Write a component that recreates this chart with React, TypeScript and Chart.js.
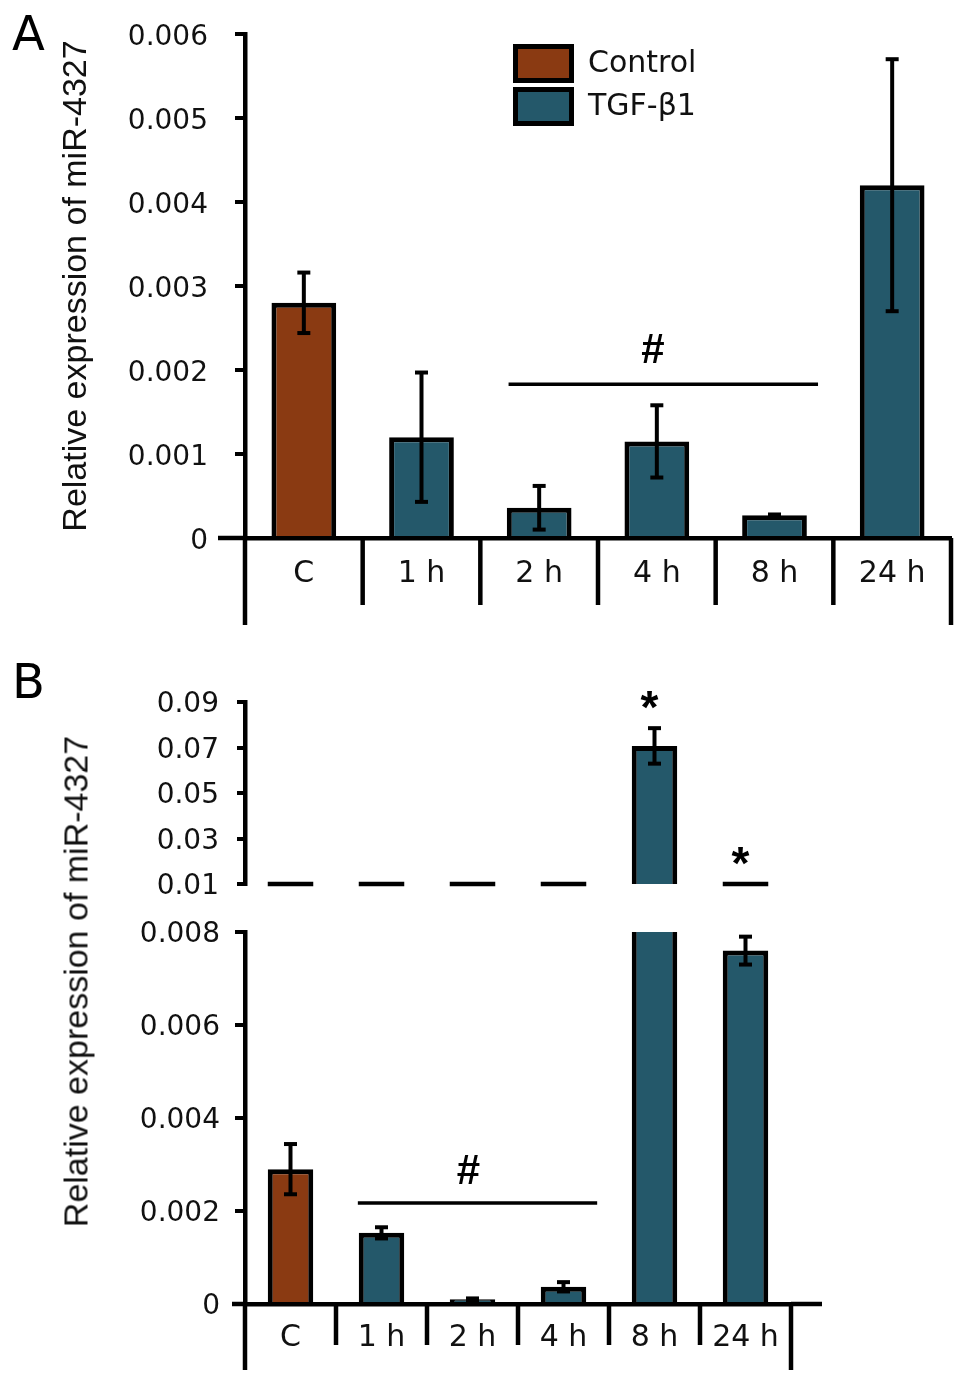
import React, { useRef, useEffect } from "react";
import { Chart, registerables } from "chart.js";

Chart.register(...registerables);

const categories = ["C", "1 h", "2 h", "4 h", "8 h", "24 h"];
const groups = ["Control", "TGF-β1", "TGF-β1", "TGF-β1", "TGF-β1", "TGF-β1"];
const groupColors: Record<string, string> = { Control: "#8a3a12", "TGF-β1": "#24586a" };

// panel A
const aValues = [0.0028, 0.0012, 0.00036, 0.00115, 0.00027, 0.0042];
const aErrors = [0.00036, 0.00077, 0.00026, 0.00043, 0.00001, 0.0015];
const aTicks = [0, 0.001, 0.002, 0.003, 0.004, 0.005, 0.006];
const aHash = { from: 2, to: 4, at: 3, y: 0.00183 };

// panel B (broken axis)
const bValues = [0.0029, 0.00153, 0.0001, 0.00037, 0.0707, 0.0076];
const bErrors = [0.00054, 0.00012, 0.00002, 0.0001, 0.0078, 0.0003];
const bLowTicks = [0, 0.002, 0.004, 0.006, 0.008];
const bHighTicks = [0.01, 0.03, 0.05, 0.07, 0.09];
const bHash = { from: 1, to: 3, at: 2, y: 0.00217 };
const bStars = ["", "", "", "", "*", "*"];

const yTitle = "Relative expression of miR-4327";
const TICK_FONT = "DejaVu Sans";
const TITLE_FONT = "Liberation Sans";
const INK = "#111";

const line = (ctx: CanvasRenderingContext2D, x1: number, y1: number, x2: number, y2: number) => {
  ctx.beginPath();
  ctx.moveTo(x1, y1);
  ctx.lineTo(x2, y2);
  ctx.stroke();
};

function drawErrorBars(chart: any, values: number[], errors: number[]) {
  const { ctx } = chart;
  const x = chart.scales.x;
  const y = chart.scales.y;
  ctx.save();
  ctx.strokeStyle = "#000";
  ctx.lineWidth = 4;
  values.forEach((v, i) => {
    if (v < y.min || v > y.max) return;
    const cx = x.getPixelForValue(i);
    const hi = y.getPixelForValue(Math.min(v + errors[i], y.max));
    const lo = y.getPixelForValue(Math.max(v - errors[i], y.min));
    line(ctx, cx, hi, cx, lo);
    line(ctx, cx - 6.5, hi, cx + 6.5, hi);
    line(ctx, cx - 6.5, lo, cx + 6.5, lo);
  });
  ctx.restore();
}

// category separators under the x axis, plus axis line extensions
function drawDividers(chart: any, outer: number, inner: number, extLeft: number, extRight: number) {
  const { ctx, chartArea } = chart;
  const x = chart.scales.x;
  const n = categories.length;
  const w = (x.right - x.left) / n;
  const base = chartArea.bottom;
  ctx.save();
  ctx.strokeStyle = "#000";
  ctx.lineWidth = 4.5;
  for (let k = 0; k <= n; k++) {
    const px = x.left + k * w;
    line(ctx, px, base, px, base + (k === 0 || k === n ? outer : inner));
  }
  line(ctx, extLeft, base, x.left, base);
  if (extRight > x.right) line(ctx, x.right, base, extRight, base);
  ctx.restore();
}

function drawHash(chart: any, sig: { from: number; to: number; at: number; y: number }, gap: number) {
  const { ctx } = chart;
  const x = chart.scales.x;
  const y = chart.scales.y;
  const w = (x.right - x.left) / categories.length;
  const py = y.getPixelForValue(sig.y);
  ctx.save();
  ctx.strokeStyle = "#000";
  ctx.lineWidth = 3.5;
  line(ctx, x.getPixelForValue(sig.from) - 0.26 * w, py, x.getPixelForValue(sig.to) + 0.37 * w, py);
  ctx.fillStyle = "#000";
  ctx.font = `bold 42px ${TITLE_FONT}`;
  ctx.textAlign = "center";
  ctx.textBaseline = "middle";
  ctx.fillText("#", x.getPixelForValue(sig.at) - 4, py - gap);
  ctx.restore();
}

function drawLetter(chart: any, letter: string, baseline: number) {
  const { ctx } = chart;
  ctx.save();
  ctx.fillStyle = "#000";
  ctx.font = `48px ${TICK_FONT}`;
  ctx.textAlign = "left";
  ctx.textBaseline = "alphabetic";
  ctx.fillText(letter, 12, baseline);
  ctx.restore();
}

function makeBarChart(canvas: HTMLCanvasElement, cfg: any) {
  return new Chart(canvas, {
    type: "bar",
    data: {
      labels: categories,
      datasets: [
        {
          data: cfg.data,
          backgroundColor: groups.map((g) => groupColors[g]),
          borderColor: "#000",
          borderWidth: 5,
          borderSkipped: cfg.borderSkipped,
          barPercentage: cfg.barPercentage,
          categoryPercentage: 1,
          clip: cfg.clip,
        },
      ],
    },
    options: {
      responsive: false,
      animation: false,
      devicePixelRatio: 1,
      events: [],
      layout: { padding: cfg.padding },
      plugins: { legend: { display: false }, tooltip: { enabled: false } },
      scales: {
        x: {
          display: cfg.xHeight > 0,
          afterFit: (s: any) => {
            s.height = cfg.xHeight;
          },
          border: { display: true, color: "#000", width: 4.5 },
          grid: { display: false },
          ticks: {
            color: INK,
            font: { family: TICK_FONT, size: 30 },
            padding: cfg.xPad,
            autoSkip: false,
            maxRotation: 0,
          },
        },
        y: {
          min: cfg.min,
          max: cfg.max,
          afterFit: (s: any) => {
            s.width = cfg.yWidth;
            s.paddingTop = 0;
            s.paddingBottom = 0;
          },
          afterBuildTicks: (s: any) => {
            s.ticks = cfg.ticks.map((value: number) => ({ value }));
          },
          border: { display: true, color: "#000", width: 4.5 },
          grid: {
            drawOnChartArea: false,
            drawTicks: true,
            tickLength: cfg.tickLength,
            color: "#000",
            lineWidth: 4,
          },
          ticks: {
            color: INK,
            font: { family: TICK_FONT, size: 28 },
            padding: cfg.tickPadding,
            labelOffset: cfg.labelOffset,
            callback: (v: any) => String(v),
          },
          title: cfg.title
            ? {
                display: true,
                text: yTitle,
                color: INK,
                font: { family: TITLE_FONT, size: 34 },
                padding: { top: 56, bottom: 0 },
              }
            : { display: false },
        },
      },
    },
    plugins: [cfg.plugin],
  } as any);
}

const ChartCanvas: React.FC<{ top: number; height: number; make: (c: HTMLCanvasElement) => Chart }> = ({
  top,
  height,
  make,
}) => {
  const ref = useRef<HTMLCanvasElement | null>(null);

  useEffect(() => {
    if (!ref.current) return;
    const chart = make(ref.current);
    return () => {
      chart.destroy();
    };
  }, []);

  return (
    <canvas
      ref={ref}
      width={969}
      height={height}
      style={{ position: "absolute", left: 0, top, width: 969, height }}
    />
  );
};

const App: React.FC = () => {
  const legendItems = Array.from(new Set(groups));

  const panelA = (canvas: HTMLCanvasElement) =>
    makeBarChart(canvas, {
      data: aValues,
      min: 0,
      max: 0.006,
      ticks: aTicks,
      padding: { top: 34, right: 18, bottom: 0, left: 0 },
      yWidth: 245,
      xHeight: 102,
      xPad: 10,
      tickLength: 10,
      tickPadding: 27,
      labelOffset: 4,
      barPercentage: 0.55,
      borderSkipped: "start",
      title: true,
      plugin: {
        id: "panelA",
        afterDatasetsDraw(chart: any) {
          drawErrorBars(chart, aValues, aErrors);
        },
        afterDraw(chart: any) {
          const { ctx } = chart;
          drawDividers(chart, 87, 67, 218, 0);
          drawHash(chart, aHash, 33);
          drawLetter(chart, "A", 50);
          ctx.save();
          legendItems.forEach((g, k) => {
            const bx = 513;
            const by = 44 + k * 43;
            ctx.fillStyle = "#000";
            ctx.fillRect(bx, by, 61, 39);
            ctx.fillStyle = groupColors[g];
            ctx.fillRect(bx + 5, by + 5, 51, 29);
            ctx.fillStyle = INK;
            ctx.font = `30px ${TICK_FONT}`;
            ctx.textAlign = "left";
            ctx.textBaseline = "middle";
            ctx.fillText(g, 588, by + 20);
          });
          ctx.restore();
        },
      },
    });

  const bTopMin = bHighTicks[0];
  const panelBTop = (canvas: HTMLCanvasElement) =>
    makeBarChart(canvas, {
      data: bValues.map((v) => (v >= bTopMin ? v : null)),
      min: bTopMin,
      max: bHighTicks[bHighTicks.length - 1],
      ticks: bHighTicks,
      padding: { top: 62, right: 178, bottom: 26, left: 0 },
      yWidth: 245,
      xHeight: 0,
      xPad: 0,
      tickLength: 8,
      tickPadding: 18,
      labelOffset: 3,
      barPercentage: 0.5,
      borderSkipped: false,
      title: false,
      plugin: {
        id: "panelBTop",
        afterDatasetsDraw(chart: any) {
          drawErrorBars(chart, bValues, bErrors);
        },
        afterDraw(chart: any) {
          const { ctx } = chart;
          const x = chart.scales.x;
          const y = chart.scales.y;
          const half = ((x.right - x.left) / categories.length) * 0.25;
          const base = y.getPixelForValue(bTopMin);
          ctx.save();
          ctx.strokeStyle = "#000";
          ctx.lineWidth = 4.5;
          bValues.forEach((v, i) => {
            const cx = x.getPixelForValue(i);
            if (v < bTopMin) line(ctx, cx - half, base, cx + half, base);
            if (bStars[i]) {
              const anchor = v >= bTopMin ? y.getPixelForValue(v + bErrors[i]) : base;
              ctx.fillStyle = "#000";
              ctx.font = `bold 46px ${TITLE_FONT}`;
              ctx.textAlign = "center";
              ctx.textBaseline = "middle";
              ctx.fillText(bStars[i], cx - 5, anchor - 27 + 9);
            }
          });
          ctx.restore();
          drawLetter(chart, "B", 58);
        },
      },
    });

  const panelBBottom = (canvas: HTMLCanvasElement) =>
    makeBarChart(canvas, {
      data: bValues,
      min: 0,
      max: bLowTicks[bLowTicks.length - 1],
      ticks: bLowTicks,
      padding: { top: 22, right: 178, bottom: 0, left: 0 },
      yWidth: 245,
      xHeight: 88,
      xPad: 8,
      tickLength: 10,
      tickPadding: 15,
      labelOffset: 3,
      barPercentage: 0.5,
      borderSkipped: "start",
      clip: { left: false, right: false, top: 0, bottom: false },
      title: false,
      plugin: {
        id: "panelBBottom",
        afterDatasetsDraw(chart: any) {
          drawErrorBars(chart, bValues, bErrors);
        },
        afterDraw(chart: any) {
          drawDividers(chart, 66, 41, 232, 822);
          drawHash(chart, bHash, 31);
        },
      },
    });

  return (
    <div style={{ position: "absolute", left: 0, top: 0, width: 969, height: 1392, background: "#fff" }}>
      <ChartCanvas top={0} height={640} make={panelA} />
      <ChartCanvas top={640} height={270} make={panelBTop} />
      <ChartCanvas top={910} height={482} make={panelBBottom} />
      <div
        style={{
          position: "absolute",
          left: 76 - 300,
          top: 981 - 20.5,
          width: 600,
          height: 41,
          lineHeight: "41px",
          textAlign: "center",
          transform: "rotate(-90deg)",
          fontFamily: TITLE_FONT,
          fontSize: 34,
          color: INK,
          whiteSpace: "nowrap",
        }}
      >
        {yTitle}
      </div>
    </div>
  );
};

export default App;
